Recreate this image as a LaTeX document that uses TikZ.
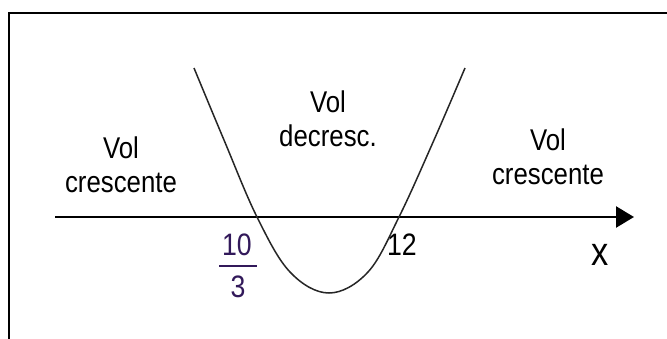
\documentclass[tikz,border=0pt]{standalone}
\usepackage{fontspec}
\setmainfont{Liberation Sans}
\usetikzlibrary{arrows.meta}
\definecolor{numcol}{RGB}{50,25,90}
\newcommand{\narrow}[1]{\scalebox{0.86}[1]{#1}}
\tikzset{
  lbl/.style={align=center, font=\fontsize{30}{34}\selectfont, inner sep=0pt},
  num/.style={font=\fontsize{31}{31}\selectfont, inner sep=0pt},
  frame/.style={line width=1.4pt, black},
  axisline/.style={line width=2.5pt, -{Triangle[length=18pt,width=21pt]}},
  curve/.style={line width=1.5pt, black!85}
}
\begin{document}
\begin{tikzpicture}[x=1pt,y=-1pt]
\useasboundingbox (0,0) rectangle (667,338);
\fill[white] (0,0) rectangle (667,338);
\draw[frame] (668,13) -- (9,13) -- (9,339);
\coordinate (a0) at (55,217);
\coordinate (a1) at (634,217);
\draw[axisline] (a0) -- (a1);
\draw[curve] plot[smooth, tension=0.6] coordinates {(194,68) (224,140) (257,217) (290,272) (329,293) (368,272) (399,217) (434,140) (465,68)};
\node[lbl] (left) at (121,165) {\narrow{Vol}\\\narrow{crescente}};
\node[lbl] (mid) at (328,119) {\narrow{Vol}\\\narrow{decresc.}};
\node[lbl] (right) at (548,157) {\narrow{Vol}\\\narrow{crescente}};
\node[num, text=numcol] (ten) at (237,245) {\narrow{10}};
\draw[numcol, line width=1.4pt] (219,266) -- (257,266);
\node[num, text=numcol] (three) at (238,287) {\narrow{3}};
\node[num] (twelve) at (402,245) {\narrow{12}};
\node[font=\fontsize{40}{40}\selectfont, inner sep=0pt] (xl) at (600,255) {\narrow{x}};
\end{tikzpicture}
\end{document}
